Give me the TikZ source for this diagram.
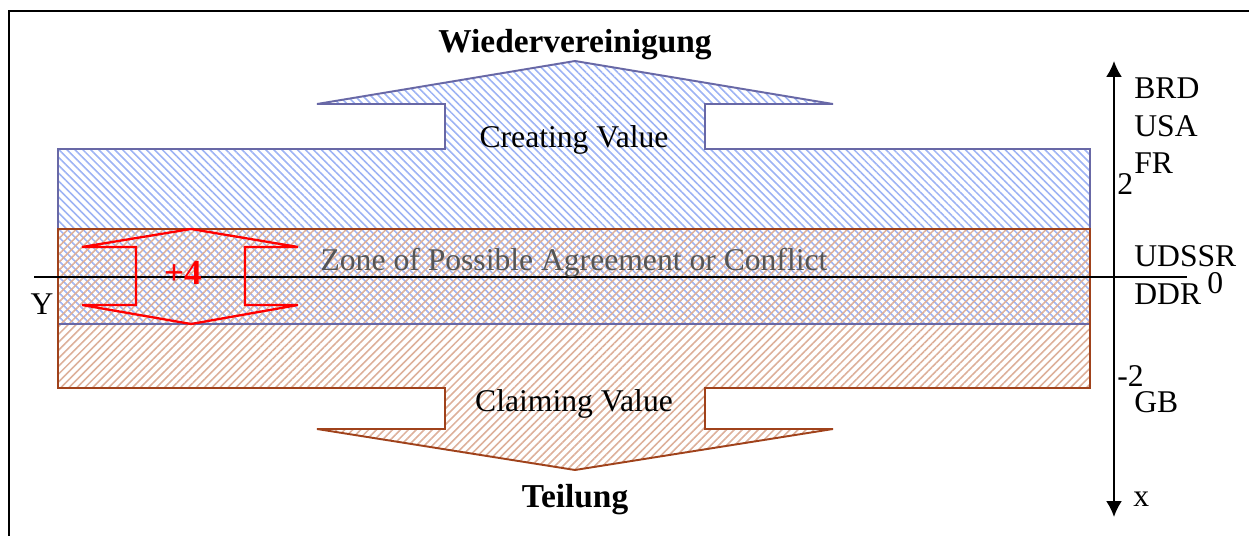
\documentclass[tikz,border=0pt]{standalone}
\usepackage{fontspec}
\setmainfont{Liberation Serif}
\usetikzlibrary{patterns.meta,arrows.meta}
\definecolor{creatline}{HTML}{6868A6}
\definecolor{creathatch}{HTML}{9DB3F4}
\definecolor{claimline}{HTML}{A0421B}
\definecolor{claimhatch}{HTML}{DDB09A}
\definecolor{zonegrey}{HTML}{555555}
\tikzset{
  creating/.style={pattern={Lines[angle=-45,distance=3.2pt,line width=0.9pt]},pattern color=creathatch},
  claiming/.style={pattern={Lines[angle=45,distance=3.2pt,line width=0.9pt]},pattern color=claimhatch},
  lbl/.style={font=\fontsize{18}{20}\selectfont,inner sep=0pt},
  bigarrow/.style={line width=1.1pt},
}
\begin{document}
\begin{tikzpicture}[x=0.02cm,y=-0.02cm]
            \useasboundingbox (0,0) rectangle (1249,536);
            \draw[line width=1.2pt] (9,540) |- (1255,11);
            % the two value shapes
            \fill[creating] (58,324) -- (58,149) -- (445,149) -- (445,104) -- (317,104) -- (575,61)
                -- (833,104) -- (705,104) -- (705,149) -- (1090,149) -- (1090,324) -- cycle;
            \fill[claiming] (58,229) -- (1090,229) -- (1090,388) -- (705,388) -- (705,429) -- (833,429)
                -- (575,470) -- (317,429) -- (445,429) -- (445,388) -- (58,388) -- cycle;
            \draw[creatline,bigarrow] (58,324) -- (58,149) -- (445,149) -- (445,104) -- (317,104) -- (575,61)
                -- (833,104) -- (705,104) -- (705,149) -- (1090,149) -- (1090,324) -- cycle;
            \draw[claimline,bigarrow] (58,229) -- (1090,229) -- (1090,388) -- (705,388) -- (705,429) -- (833,429)
                -- (575,470) -- (317,429) -- (445,429) -- (445,388) -- (58,388) -- cycle;
            % axes
            \coordinate (xl) at (34,277);
            \coordinate (xr) at (1187,277);
            \coordinate (ytop) at (1114,61);
            \coordinate (ybot) at (1114,517);
            \draw[line width=0.7pt] (xl) -- (xr);
            \draw[line width=1.1pt,{Latex[length=9pt,width=9pt]}-{Latex[length=9pt,width=9pt]}] (ybot) -- (ytop);
            % red span
            \draw[red,line width=1.3pt] (82,247) -- (136,247) -- (136,305) -- (82,305) -- (191,324) -- (298,305)
                -- (245,305) -- (245,247) -- (298,247) -- (191,229) -- cycle;
            \node[text=red,font=\fontsize{20}{22}\selectfont\bfseries,inner sep=0pt,anchor=base] (span) at (183,285) {+4};
            % texts
            \node[font=\fontsize{19}{22}\selectfont\bfseries,inner sep=0pt,anchor=base] (reunion) at (575,53) {Wiedervereinigung};
            \node[font=\fontsize{19}{22}\selectfont\bfseries,inner sep=0pt,anchor=base] (division) at (575,508) {Teilung};
            \node[lbl,anchor=base] (creat) at (574,148) {Creating Value};
            \node[lbl,anchor=base] (claim) at (574,412) {Claiming Value};
            \node[lbl,anchor=base,text=zonegrey] (zone) at (574,271) {Zone of Possible Agreement or Conflict};
            \node[lbl,anchor=base west] (brd) at (1134,99) {BRD};
            \node[lbl,anchor=base west] (usa) at (1134,137) {USA};
            \node[lbl,anchor=base west] (fr) at (1134,174) {FR};
            \node[lbl,anchor=base west] (two) at (1117,195) {2};
            \node[lbl,anchor=base west,text depth=0pt] (udssr) at (1134,267) {UDSSR};
            \node[lbl,anchor=base west,text height=12pt,text depth=0pt] (zero) at (1207,294) {0};
            \node[lbl,anchor=base west] (ddr) at (1134,305) {DDR};
            \node[lbl,anchor=base west] (mtwo) at (1117,387) {-2};
            \node[lbl,anchor=base west] (gb) at (1134,413) {GB};
            \node[lbl,anchor=base west] (xlab) at (1133,507) {x};
            \node[lbl,anchor=base] (ylab) at (42,315) {Y};
\end{tikzpicture}
\end{document}
